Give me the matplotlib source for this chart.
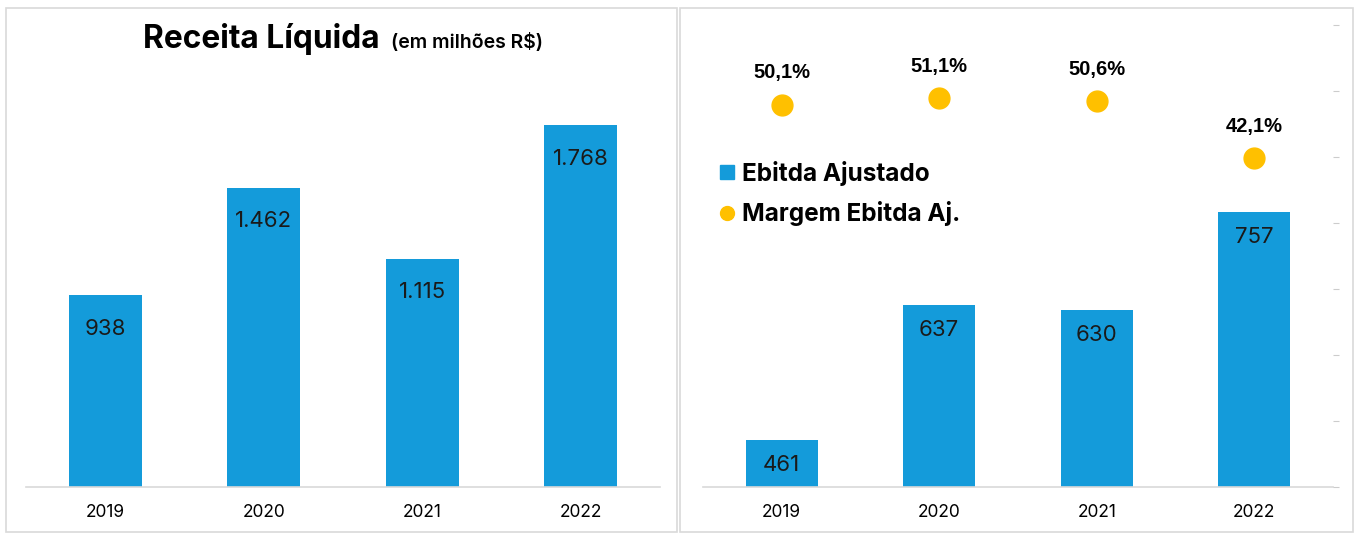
import numpy as np
import matplotlib.pyplot as plt
from matplotlib.patches import Rectangle
from matplotlib.lines import Line2D

anos = ['2019', '2020', '2021', '2022']
receita = [938, 1462, 1115, 1768]
receita_txt = ['938', '1.462', '1.115', '1.768']
ebitda = [461, 637, 630, 757]
margem = [50.1, 51.1, 50.6, 42.1]
margem_txt = ['50,1%', '51,1%', '50,6%', '42,1%']

azul = '#149BDA'
amarelo = '#FFC000'
cinza = '#D9D9D9'
fonte = ['Inter', 'DejaVu Sans']
fonte_num = ['Liberation Sans Narrow', 'Liberation Sans', 'DejaVu Sans']

W, H = 1366, 546
fig = plt.figure(figsize=(W / 100, H / 100), dpi=100)
fig.patch.set_facecolor('white')


def px(x0, y0, x1, y1):
    # pixel box (top-left origin) -> figure fraction rect
    return [x0 / W, 1 - y1 / H, (x1 - x0) / W, (y1 - y0) / H]


# panel frames
for x0, x1 in [(6, 677), (680, 1353)]:
    fig.patches.append(Rectangle((x0 / W, 1 - 532 / H), (x1 - x0) / W, 524 / H,
                                 transform=fig.transFigure, fill=False,
                                 edgecolor=cinza, linewidth=1.2))

x = np.arange(len(anos))

# left: receita liquida
ax1 = fig.add_axes(px(26, 78, 660, 487))
ax1.bar(x, receita, width=0.46, color=azul)
ax1.set_xlim(-0.5, 3.5)
ax1.set_ylim(0, 2000)
for i in range(len(anos)):
    ax1.annotate(receita_txt[i], (x[i], receita[i]), xytext=(0, -24),
                 textcoords='offset points', ha='center', va='center',
                 fontsize=16, family=fonte, color='#1a1a1a')
ax1.set_xticks(x)
ax1.set_xticklabels(anos, fontsize=12.5, family=fonte)
ax1.tick_params(axis='x', length=0, pad=12)
ax1.set_yticks([])
for s in ['top', 'right', 'left']:
    ax1.spines[s].set_visible(False)
ax1.spines['bottom'].set_color(cinza)
ax1.spines['bottom'].set_linewidth(1.2)

fig.text(143 / W, 1 - 48 / H, 'Receita Líquida', fontsize=22.8, family=fonte,
         fontweight='bold', ha='left', va='baseline')
fig.text(391 / W, 1 - 48 / H, '(em milhões R$)', fontsize=14, family=fonte,
         fontweight='semibold', ha='left', va='baseline')

# right: ebitda
ax2 = fig.add_axes(px(703, 25, 1333, 487))
ax2.bar(x, ebitda, width=0.46, color=azul)
ax2.set_xlim(-0.5, 3.5)
ax2.set_ylim(400, 1000)
for i in range(len(anos)):
    ax2.annotate(str(ebitda[i]), (x[i], ebitda[i]), xytext=(0, -18),
                 textcoords='offset points', ha='center', va='center',
                 fontsize=16, family=fonte, color='#1a1a1a')
ax2.set_xticks(x)
ax2.set_xticklabels(anos, fontsize=12.5, family=fonte)
ax2.tick_params(axis='x', length=0, pad=12)
ax2.set_yticks([])
for s in ['top', 'right', 'left']:
    ax2.spines[s].set_visible(False)
ax2.spines['bottom'].set_color(cinza)
ax2.spines['bottom'].set_linewidth(1.2)

ax3 = ax2.twinx()
ax3.set_ylim(-7.0, 62.0)
ax3.plot(x, margem, 'o', color=amarelo, markersize=15, linestyle='none')
for i in range(len(anos)):
    ax3.annotate(margem_txt[i], (x[i], margem[i]), xytext=(0, 23),
                 textcoords='offset points', ha='center', va='center',
                 fontsize=14.5, family=fonte_num, fontweight='bold')
ax3.set_yticks(np.linspace(-7.0, 62.0, 8))
ax3.set_yticklabels([])
ax3.tick_params(axis='y', length=4, color='#cccccc', direction='out')
for s in ['top', 'right', 'left', 'bottom']:
    ax3.spines[s].set_visible(False)

handles = [Line2D([], [], marker='s', color=azul, linestyle='none', markersize=10),
           Line2D([], [], marker='o', color=amarelo, linestyle='none', markersize=10)]
fig.legend(handles, ['Ebitda Ajustado', 'Margem Ebitda Aj.'],
           loc='upper left', bbox_to_anchor=(718 / W, 1 - 161 / H),
           frameon=False, prop={'family': fonte, 'size': 17.5, 'weight': 'bold'},
           handlelength=0.7, handletextpad=0.3, labelspacing=0.62,
           borderpad=0, borderaxespad=0)

fig.savefig('out.png', dpi=100, facecolor='white')
